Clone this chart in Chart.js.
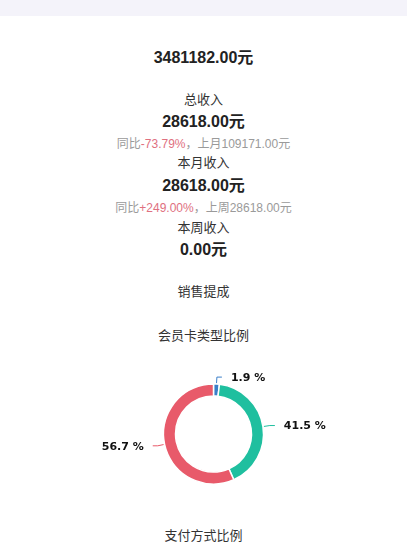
<!DOCTYPE html>
<html>
<head>
<meta charset="utf-8">
<script src="https://cdn.jsdelivr.net/npm/chart.js@4/dist/chart.umd.min.js"></script>
<style>
  html, body { margin: 0; padding: 0; background: #fff; }
  body { width: 407px; height: 543px; position: relative; overflow: hidden;
         font-family: "Liberation Sans", Arial, "Noto Sans CJK SC", sans-serif; }
  .topbar { position: absolute; left: 0; top: 0; width: 407px; height: 16px; background: #f4f3fa; }
  .line { position: absolute; left: 0; width: 407px; text-align: center; white-space: nowrap; }
  .big { font-size: 16px; font-weight: bold; color: #222; height: 22px; line-height: 22px; }
  .lbl { font-size: 13px; color: #333; height: 18px; line-height: 18px; }
  .cmp { font-size: 12px; color: #9a9a9a; height: 16px; line-height: 16px; }
  .cmp .red { color: #e0707f; }
  #chartBox { position: absolute; left: 0; top: 349px; width: 407px; height: 170px; }
</style>
</head>
<body>
<div class="topbar"></div>
<div class="line big" style="top:47px">3481182.00元</div>
<div class="line lbl" style="top:91px">总收入</div>
<div class="line big" style="top:111px">28618.00元</div>
<div class="line cmp" style="top:136px">同比<span class="red">-73.79%</span>，上月109171.00元</div>
<div class="line lbl" style="top:154px">本月收入</div>
<div class="line big" style="top:175px">28618.00元</div>
<div class="line cmp" style="top:200px">同比<span class="red">+249.00%</span>，上周28618.00元</div>
<div class="line lbl" style="top:219px">本周收入</div>
<div class="line big" style="top:239px">0.00元</div>
<div class="line lbl" style="top:283px">销售提成</div>
<div class="line lbl" style="top:327px">会员卡类型比例</div>
<div id="chartBox"><canvas id="cardChart"></canvas></div>
<div class="line lbl" style="top:527px">支付方式比例</div>

<script>
// 会员卡类型比例
const cardTypes = ['类型一', '类型二', '类型三'];
const cardShares = [1.9, 41.5, 56.7];
const cardColors = ['#3b7fc8', '#1fbf9f', '#e85a6a'];

// 外部百分比标签 + 引导线
const outsideLabels = {
    id: 'outsideLabels',
    afterDatasetsDraw(chart) {
        const ctx = chart.ctx;
        const meta = chart.getDatasetMeta(0);
        ctx.save();
        meta.data.forEach((arc, i) => {
            const p = arc.getProps(['x', 'y', 'startAngle', 'endAngle', 'outerRadius'], true);
            const a = (p.startAngle + p.endAngle) / 2;
            const cos = Math.cos(a), sin = Math.sin(a);
            const side = cos >= 0 ? 1 : -1;
            const x0 = p.x + cos * (p.outerRadius + 1), y0 = p.y + sin * (p.outerRadius + 1);
            const x1 = p.x + cos * (p.outerRadius + 7), y1 = p.y + sin * (p.outerRadius + 7);
            const x2 = x1 + side * 5;
            ctx.strokeStyle = cardColors[i];
            ctx.lineWidth = 1;
            ctx.beginPath();
            ctx.moveTo(x0, y0);
            ctx.lineTo(x1, y1);
            ctx.lineTo(x2, y1);
            ctx.stroke();
            ctx.fillStyle = '#111';
            ctx.font = 'bold 11px "DejaVu Sans", Verdana, sans-serif';
            ctx.textAlign = side > 0 ? 'left' : 'right';
            ctx.textBaseline = 'middle';
            ctx.fillText(cardShares[i].toFixed(1) + ' %', x2 + side * 9, y1 + 1);
        });
        ctx.restore();
    }
};

window.onload = function () {
    const ctx = document.getElementById('cardChart').getContext('2d');
    new Chart(ctx, {
        type: 'doughnut',
        data: {
            labels: cardTypes,
            datasets: [{
                data: cardShares,
                backgroundColor: cardColors,
                borderColor: '#fff',
                borderWidth: 1.5
            }]
        },
        options: {
            responsive: true,
            maintainAspectRatio: false,
            animation: false,
            radius: 50,
            cutout: '76%',
            layout: { padding: { left: 20 } },
            plugins: { legend: { display: false }, tooltip: { enabled: false } }
        },
        plugins: [outsideLabels]
    });
};
</script>
</body>
</html>
